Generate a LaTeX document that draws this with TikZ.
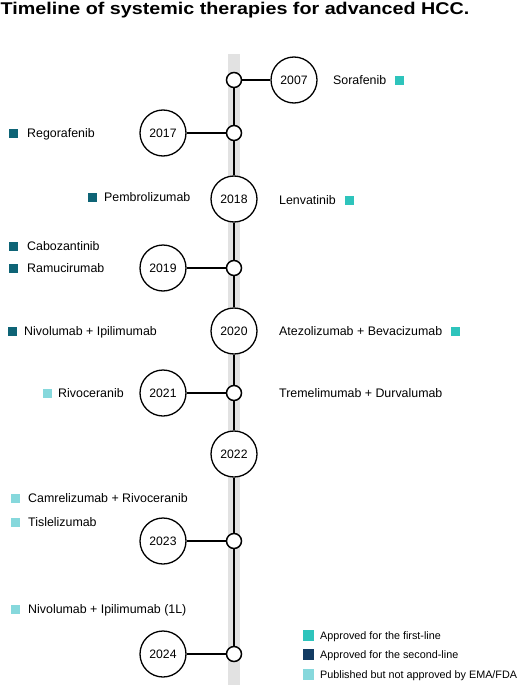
\documentclass[tikz,border=0pt]{standalone}
\usepackage{fontspec}
\setmainfont{Liberation Sans}
\definecolor{firstc}{HTML}{2EC4BC}
\definecolor{secondc}{HTML}{0E6476}
\definecolor{pubc}{HTML}{86D8DC}
\definecolor{secondleg}{HTML}{123B63}
\definecolor{bandc}{HTML}{E2E2E2}
\begin{document}
\begin{tikzpicture}[x=1pt,y=-1pt,
  year/.style={circle,draw=black,line width=1.3pt,fill=white,minimum size=46pt,inner sep=0pt,font=\fontsize{12.2}{14}\selectfont},
  dot/.style={circle,draw=black,line width=1.5pt,fill=white,minimum size=15pt,inner sep=0pt},
  lbl/.style={anchor=base west,inner sep=0pt,font=\fontsize{12.4}{14}\selectfont},
  leg/.style={anchor=base west,inner sep=0pt,font=\fontsize{10.8}{12}\selectfont},
  sq/.style={minimum size=9pt,inner sep=0pt,fill=#1},
  lsq/.style={minimum size=11pt,inner sep=0pt,fill=#1},
  conn/.style={line width=1.8pt,black},
  axis/.style={line width=2.2pt,black}]
\useasboundingbox (0,0) rectangle (517,685);
% title
\node[anchor=base west,inner sep=0pt,font=\fontsize{17}{19}\selectfont\bfseries,xscale=1.16,transform shape] (title) at (0.5,15) {Timeline of systemic therapies for advanced HCC.};
% gray band
\fill[bandc] (228,54) rectangle (240,685);
% small dots
\node[dot] (s2007) at (234,80) {};
\node[dot] (s2017) at (234,133) {};
\node[dot] (s2019) at (234,268) {};
\node[dot] (s2021) at (234,393) {};
\node[dot] (s2023) at (234,541) {};
\node[dot] (s2024) at (234,654) {};
% year circles
\node[year] (y2007) at (294,80) {2007};
\node[year] (y2017) at (163,133) {2017};
\node[year] (y2018) at (234,199) {2018};
\node[year] (y2019) at (163,268) {2019};
\node[year] (y2020) at (234,331) {2020};
\node[year] (y2021) at (163,393) {2021};
\node[year] (y2022) at (234,454) {2022};
\node[year] (y2023) at (163,541) {2023};
\node[year] (y2024) at (163,654) {2024};
% axis
\draw[axis] (s2007) -- (s2017);
\draw[axis] (s2017) -- (y2018);
\draw[axis] (y2018) -- (s2019);
\draw[axis] (s2019) -- (y2020);
\draw[axis] (y2020) -- (s2021);
\draw[axis] (s2021) -- (y2022);
\draw[axis] (y2022) -- (s2023);
\draw[axis] (s2023) -- (s2024);
% connectors
\draw[conn] (s2007) -- (y2007);
\draw[conn] (s2017) -- (y2017);
\draw[conn] (s2019) -- (y2019);
\draw[conn] (s2021) -- (y2021);
\draw[conn] (s2023) -- (y2023);
\draw[conn] (s2024) -- (y2024);
% labels
\node[lbl] (sora) at (333,84.5) {Sorafenib};
\node[sq=firstc] (qsora) at (399,80) {};
\node[sq=secondc] (qrego) at (13.5,133) {};
\node[lbl] (rego) at (27,137.5) {Regorafenib};
\node[sq=secondc] (qpemb) at (92.5,197) {};
\node[lbl] (pemb) at (104,201.5) {Pembrolizumab};
\node[lbl] (lenv) at (279,204.5) {Lenvatinib};
\node[sq=firstc] (qlenv) at (349,200) {};
\node[sq=secondc] (qcabo) at (13.5,246) {};
\node[lbl] (cabo) at (27,250.5) {Cabozantinib};
\node[sq=secondc] (qramu) at (13.5,268) {};
\node[lbl] (ramu) at (27,272.5) {Ramucirumab};
\node[sq=secondc] (qnivo) at (12.5,331) {};
\node[lbl] (nivo) at (24,335.5) {Nivolumab + Ipilimumab};
\node[lbl] (atez) at (279,335.5) {Atezolizumab + Bevacizumab};
\node[sq=firstc] (qatez) at (455.5,331) {};
\node[sq=pubc] (qrivo) at (47.5,393) {};
\node[lbl] (rivo) at (58,397.5) {Rivoceranib};
\node[lbl] (trem) at (279,397.5) {Tremelimumab + Durvalumab};
\node[sq=pubc] (qcamr) at (15.5,498) {};
\node[lbl] (camr) at (28,502.5) {Camrelizumab + Rivoceranib};
\node[sq=pubc] (qtisl) at (15.5,522) {};
\node[lbl] (tisl) at (28,526.5) {Tislelizumab};
\node[sq=pubc] (qnivo2) at (15.5,609) {};
\node[lbl] (nivo2) at (28,613.5) {Nivolumab + Ipilimumab (1L)};
% legend
\node[lsq=firstc] (lq1) at (308.5,635) {};
\node[leg] (l1) at (320,639) {Approved for the first-line};
\node[lsq=secondleg] (lq2) at (308.5,654) {};
\node[leg] (l2) at (320,658) {Approved for the second-line};
\node[lsq=pubc] (lq3) at (308.5,674) {};
\node[leg] (l3) at (320,678) {Published but not approved by EMA/FDA};
\end{tikzpicture}
\end{document}
